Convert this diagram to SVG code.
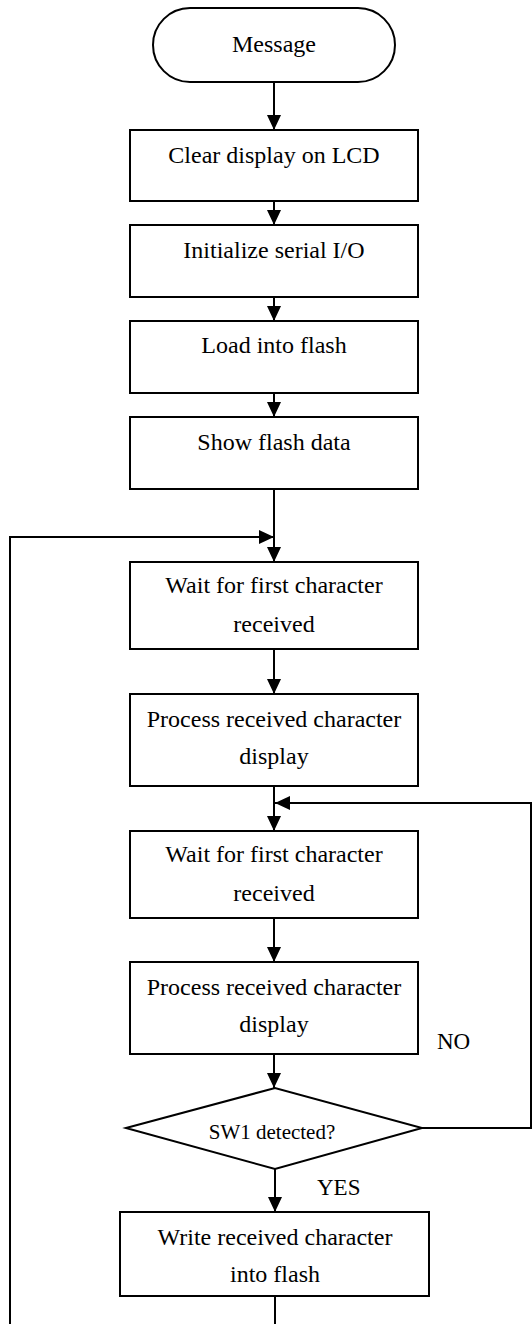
<svg xmlns="http://www.w3.org/2000/svg" width="532" height="1324" viewBox="0 0 532 1324">
<style>
.box{fill:#fff;stroke:#000;stroke-width:2}
.ln{fill:none;stroke:#000;stroke-width:2}
.t{font-family:"Liberation Serif","Times New Roman",serif;font-size:24px;fill:#000;text-anchor:middle}
.s{font-size:21px}
.lb{font-family:"Liberation Serif","Times New Roman",serif;font-size:23px;fill:#000}
</style>
<defs>
<marker id="ah" markerUnits="userSpaceOnUse" markerWidth="16" markerHeight="15" refX="15" refY="7" orient="auto">
<path d="M0,0 L15,7 L0,14 z" fill="#000"/>
</marker>
</defs>
<rect width="532" height="1324" fill="#fff"/>
<g id="connectors">
<line class="ln" x1="274" y1="82" x2="274" y2="130" marker-end="url(#ah)"/>
<line class="ln" x1="274" y1="201" x2="274" y2="225" marker-end="url(#ah)"/>
<line class="ln" x1="274" y1="297" x2="274" y2="321" marker-end="url(#ah)"/>
<line class="ln" x1="274" y1="393" x2="274" y2="417" marker-end="url(#ah)"/>
<line class="ln" x1="274" y1="489" x2="274" y2="562" marker-end="url(#ah)"/>
<polyline class="ln" points="275,1324 275,1296"/>
<polyline class="ln" points="10,1324 10,537 274,537" marker-end="url(#ah)"/>
<line class="ln" x1="274" y1="649" x2="274" y2="694" marker-end="url(#ah)"/>
<line class="ln" x1="274" y1="786" x2="274" y2="831" marker-end="url(#ah)"/>
<polyline class="ln" points="422,1128 531,1128 531,803 275,803" marker-end="url(#ah)"/>
<line class="ln" x1="274" y1="918" x2="274" y2="962" marker-end="url(#ah)"/>
<line class="ln" x1="274" y1="1054" x2="274" y2="1088" marker-end="url(#ah)"/>
<line class="ln" x1="275" y1="1169" x2="275" y2="1212" marker-end="url(#ah)"/>
</g>
<g id="start">
<rect class="box" x="153" y="8" width="242" height="74" rx="37" ry="37"/>
<text class="t" x="274" y="52">Message</text>
</g>
<g id="clear">
<rect class="box" x="130" y="130" width="288" height="71"/>
<text class="t" x="274" y="163">Clear display on LCD</text>
</g>
<g id="init">
<rect class="box" x="130" y="225" width="288" height="72"/>
<text class="t" x="274" y="258">Initialize serial I/O</text>
</g>
<g id="load">
<rect class="box" x="130" y="321" width="288" height="72"/>
<text class="t" x="274" y="353">Load into flash</text>
</g>
<g id="show">
<rect class="box" x="130" y="417" width="288" height="72"/>
<text class="t" x="274" y="450">Show flash data</text>
</g>
<g id="wait1">
<rect class="box" x="130" y="562" width="288" height="87"/>
<text class="t" x="274" y="593">Wait for first character</text>
<text class="t" x="274" y="632">received</text>
</g>
<g id="proc1">
<rect class="box" x="130" y="694" width="288" height="92"/>
<text class="t" x="274" y="727">Process received character</text>
<text class="t" x="274" y="764">display</text>
</g>
<g id="wait2">
<rect class="box" x="130" y="831" width="288" height="87"/>
<text class="t" x="274" y="862">Wait for first character</text>
<text class="t" x="274" y="901">received</text>
</g>
<g id="proc2">
<rect class="box" x="130" y="962" width="288" height="92"/>
<text class="t" x="274" y="995">Process received character</text>
<text class="t" x="274" y="1032">display</text>
</g>
<g id="decision">
<polygon class="box" points="126,1128 275,1088 422,1128 275,1169"/>
<text class="t s" x="272" y="1139">SW1 detected?</text>
</g>
<g id="labels">
<text class="lb" x="437" y="1049">NO</text>
<text class="lb" x="317" y="1195">YES</text>
</g>
<g id="write">
<rect class="box" x="120" y="1212" width="309" height="84"/>
<text class="t" x="275" y="1245">Write received character</text>
<text class="t" x="275" y="1282">into flash</text>
</g>
</svg>
